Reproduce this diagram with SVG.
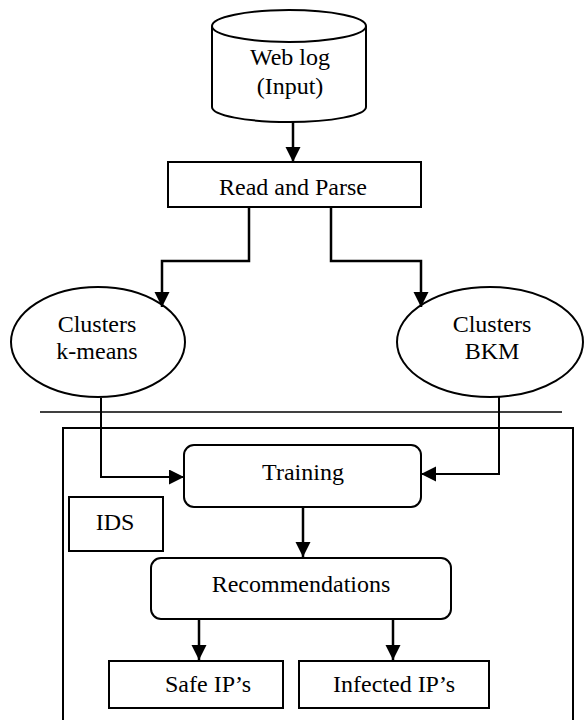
<svg xmlns="http://www.w3.org/2000/svg" width="584" height="720" viewBox="0 0 584 720">
  <style>
    .shape { fill: #ffffff; stroke: #000000; stroke-width: 2; }
    .label { font-family: "Liberation Serif", "Times New Roman", serif; font-size: 24px; fill: #000000; text-anchor: middle; }
    .wire { fill: none; stroke: #000000; stroke-width: 2.5; }
    .rule { fill: none; stroke: #000000; stroke-width: 1.5; }
  </style>
  <defs>
    <marker id="arrow" markerUnits="userSpaceOnUse" markerWidth="16" markerHeight="16" refX="15" refY="7.5" orient="auto">
      <path d="M0,0 L15,7.5 L0,15 z" fill="#000000"/>
    </marker>
  </defs>
  <rect width="584" height="720" fill="#ffffff"/>

  <!-- IDS frame (open at the bottom edge) and separator rule -->
  <g id="ids-frame">
    <path class="rule" d="M63,722 L63,428 L573,428 L573,722" style="stroke-width:2"/>
  </g>
  <g id="separator">
    <line class="rule" x1="40" y1="412" x2="562" y2="412"/>
  </g>

  <g id="weblog">
    <path class="shape" d="M212,26 L212,107 A77,15 0 0 0 366,107 L366,26"/>
    <ellipse class="shape" cx="289" cy="26" rx="77" ry="16"/>
    <text class="label" x="290" y="65">Web log</text>
    <text class="label" x="290" y="94">(Input)</text>
  </g>

  <g id="read-parse">
    <rect class="shape" x="168" y="162" width="253" height="45"/>
    <text class="label" x="293" y="195">Read and Parse</text>
  </g>

  <g id="clusters-kmeans">
    <ellipse class="shape" cx="98" cy="342" rx="87" ry="55"/>
    <text class="label" x="97" y="332">Clusters</text>
    <text class="label" x="97" y="359">k-means</text>
  </g>

  <g id="clusters-bkm">
    <ellipse class="shape" cx="490" cy="342" rx="93" ry="55"/>
    <text class="label" x="492" y="332">Clusters</text>
    <text class="label" x="492" y="359">BKM</text>
  </g>

  <g id="training">
    <rect class="shape" x="184" y="445" width="237" height="62" rx="10"/>
    <text class="label" x="303" y="480">Training</text>
  </g>

  <g id="ids-label">
    <rect class="shape" x="69" y="497" width="94" height="54"/>
    <text class="label" x="115" y="530">IDS</text>
  </g>

  <g id="recommendations">
    <rect class="shape" x="151" y="558" width="300" height="61" rx="10"/>
    <text class="label" x="301" y="592">Recommendations</text>
  </g>

  <g id="safe-ips">
    <rect class="shape" x="109" y="661" width="174" height="47"/>
    <text class="label" x="208" y="692">Safe IP’s</text>
  </g>

  <g id="infected-ips">
    <rect class="shape" x="299" y="661" width="190" height="47"/>
    <text class="label" x="394" y="692">Infected IP’s</text>
  </g>

  <g id="connectors">
    <path class="wire" d="M293,122 L293,162" marker-end="url(#arrow)"/>
    <path class="wire" d="M249,207 L249,261 L162,261 L162,307" marker-end="url(#arrow)"/>
    <path class="wire" d="M331,207 L331,261 L421,261 L421,307" marker-end="url(#arrow)"/>
    <path class="wire" d="M101,398 L101,477 L184,477" marker-end="url(#arrow)" style="stroke-width:2"/>
    <path class="wire" d="M499,397 L499,474 L421,474" marker-end="url(#arrow)" style="stroke-width:2"/>
    <path class="wire" d="M303,507 L303,557" marker-end="url(#arrow)"/>
    <path class="wire" d="M199,619 L199,660" marker-end="url(#arrow)"/>
    <path class="wire" d="M393,619 L393,660" marker-end="url(#arrow)"/>
  </g>
</svg>
